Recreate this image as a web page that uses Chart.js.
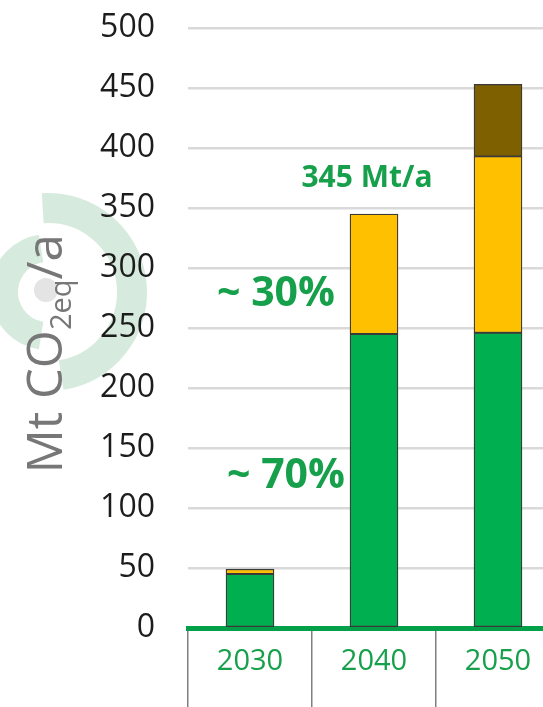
<!DOCTYPE html>
<html>
<head>
<meta charset="utf-8">
<script src="https://cdn.jsdelivr.net/npm/chart.js@4/dist/chart.umd.min.js"></script>
<style>
  html, body { margin: 0; padding: 0; background: #fff; }
  #wrap { width: 543px; height: 707px; overflow: hidden; position: relative; }
  canvas { display: block; }
</style>
</head>
<body>
<div id="wrap"><canvas id="co2Chart" width="560" height="707"></canvas></div>
<script>
const years = ['2030', '2040', '2050'];
const greenPart = [45, 245, 246];
const orangePart = [4, 100, 147];
const brownPart = [0, 0, 60];
const yTicks = [0, 50, 100, 150, 200, 250, 300, 350, 400, 450, 500];

const textGreen = '#17a04b';

// faint logo + rotated axis title with subscript
const backdrop = {
  id: 'backdrop',
  beforeDraw(chart) {
    const ctx = chart.ctx;
    const cy = chart.scales.y.getPixelForValue(280);
    ctx.save();
    ctx.strokeStyle = '#d6ebdd';
    ctx.lineCap = 'butt';
    ctx.lineWidth = 30;
    ctx.beginPath();
    ctx.arc(48, cy, 84, -Math.PI * 0.52, Math.PI * 0.45);
    ctx.stroke();
    ctx.lineWidth = 28;
    ctx.beginPath();
    ctx.arc(48, cy, 44, Math.PI * 0.55, Math.PI * 1.45);
    ctx.stroke();
    ctx.fillStyle = '#e4e4e4';
    ctx.beginPath();
    ctx.arc(46, cy - 2, 12, 0, Math.PI * 2);
    ctx.fill();

    // title
    const big = '49px "Open Sans"';
    const small = '29px "Open Sans"';
    ctx.fillStyle = '#777777';
    ctx.textBaseline = 'alphabetic';
    ctx.textAlign = 'left';
    ctx.font = big;
    const w1 = ctx.measureText('Mt CO').width;
    const w3 = ctx.measureText('/a').width;
    ctx.font = small;
    const w2 = ctx.measureText('2eq').width;
    const total = w1 + w2 + w3;
    const mid = (chart.scales.y.getPixelForValue(122) + chart.scales.y.getPixelForValue(335)) / 2;
    ctx.translate(62, mid);
    ctx.rotate(-Math.PI / 2);
    let x = -total / 2;
    ctx.font = big;
    ctx.fillText('Mt CO', x, 0);
    x += w1;
    ctx.font = small;
    ctx.fillText('2eq', x, 9);
    x += w2;
    ctx.font = big;
    ctx.fillText('/a', x, 0);
    ctx.restore();
  }
};

// green callouts
const callouts = {
  id: 'callouts',
  afterDraw(chart) {
    const ctx = chart.ctx;
    const xs = chart.scales.x, ys = chart.scales.y;
    ctx.save();
    ctx.fillStyle = textGreen;
    ctx.textAlign = 'center';
    ctx.textBaseline = 'middle';
    ctx.font = 'bold 30px "Open Sans"';
    ctx.fillText('345 Mt/a', xs.getPixelForValue(1) - 7, ys.getPixelForValue(375));
    ctx.font = 'bold 41px "Open Sans"';
    ctx.fillText('~ 30%', xs.getPixelForValue(0) + 26, ys.getPixelForValue(278));
    ctx.fillText('~ 70%', xs.getPixelForValue(0) + 36, ys.getPixelForValue(126));
    ctx.restore();
  }
};

new Chart(document.getElementById('co2Chart'), {
  type: 'bar',
  data: {
    labels: years,
    datasets: [
      { label: 'green', data: greenPart, backgroundColor: '#00b050' },
      { label: 'orange', data: orangePart, backgroundColor: '#ffc000' },
      { label: 'brown', data: brownPart, backgroundColor: '#7f6000' }
    ].map(d => Object.assign(d, {
      borderColor: '#3a3a3a',
      borderWidth: 1.3,
      borderSkipped: false,
      barThickness: 48
    }))
  },
  options: {
    responsive: false,
    animation: false,
    layout: { padding: { top: 28, right: 0, bottom: 0, left: 0 } },
    plugins: { legend: { display: false }, tooltip: { enabled: false } },
    scales: {
      x: {
        stacked: true,
        offset: true,
        afterFit(scale) { scale.height = 79; },
        grid: {
          offset: true,
          drawOnChartArea: false,
          drawTicks: true,
          tickLength: 80,
          color: '#7f7f7f',
          lineWidth: 1.5
        },
        border: { display: true, color: '#03a04a', width: 5 },
        ticks: {
          color: textGreen,
          font: { family: 'Open Sans', size: 29 },
          padding: -64
        }
      },
      y: {
        stacked: true,
        min: 0,
        max: 500,
        afterFit(scale) { scale.width = 188; },
        afterBuildTicks(scale) { scale.ticks = yTicks.map(v => ({ value: v })); },
        grid: {
          color: '#d9d9d9',
          lineWidth: 2.5,
          drawTicks: true,
          tickLength: 33,
          tickColor: 'rgba(0,0,0,0)'
        },
        border: { display: false },
        ticks: {
          color: '#1c1c1c',
          font: { family: 'Open Sans', size: 32 },
          padding: 0
        }
      }
    }
  },
  plugins: [backdrop, callouts]
});
</script>
</body>
</html>
